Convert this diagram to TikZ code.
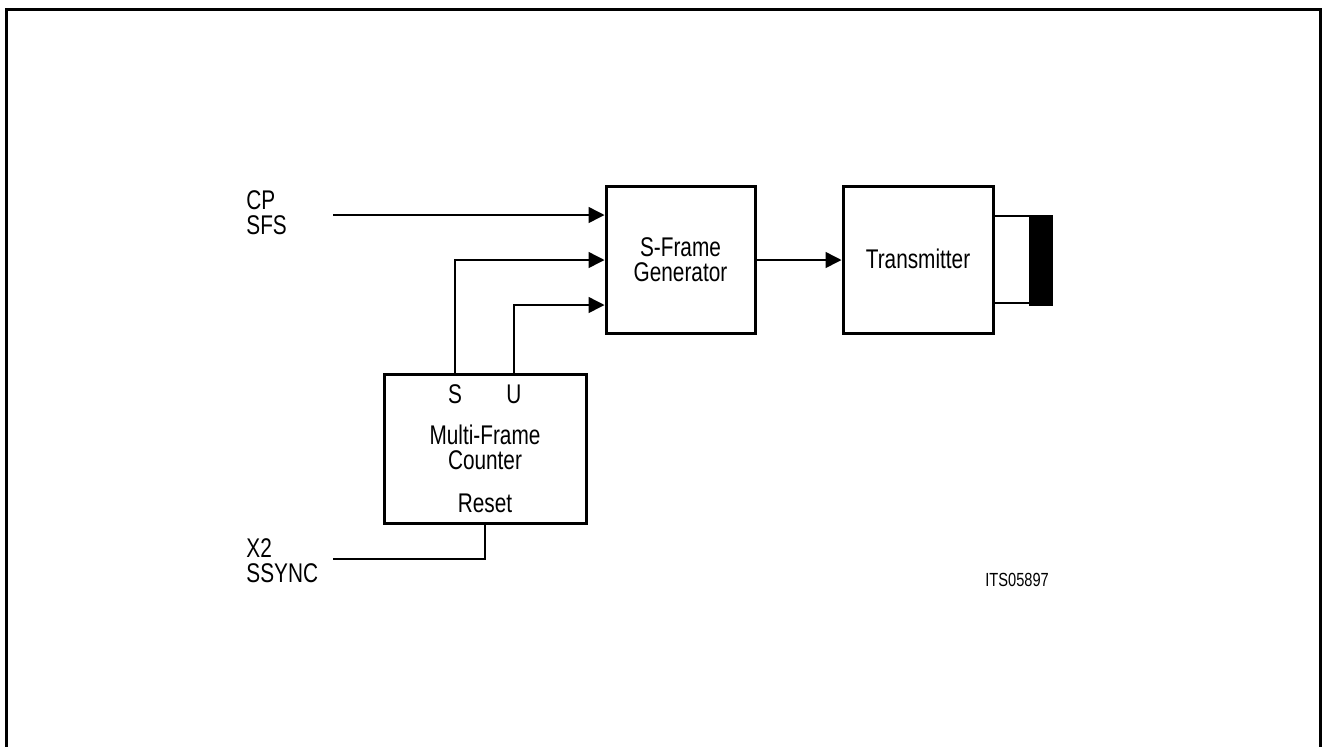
\documentclass[tikz,border=0pt]{standalone}
\usepackage{fontspec}
\setmainfont{Liberation Sans}[FakeStretch=0.77]
\usetikzlibrary{arrows.meta}
\begin{document}
\begin{tikzpicture}[x=0.5pt,y=-0.5pt,
  blk/.style={draw,line width=1.5pt,rectangle,inner sep=0pt},
  wire/.style={line width=0.75pt},
  arr/.style={wire,-{Triangle[length=8pt,width=8pt]}},
  lbl/.style={inner sep=0pt,font=\fontsize{13.5}{12}\selectfont},
  lblw/.style={lbl,anchor=base west},
  lblc/.style={lbl,anchor=base}]
\useasboundingbox (0,0) rectangle (1324,746);
\draw[line width=1.5pt] (6,780) -- (6,9) -- (1320,9) -- (1320,780);
% blocks
\node[blk,minimum width=74.5pt,minimum height=73.5pt] (sfg) at (680.5,259.5) {};
\node[blk,minimum width=75pt,minimum height=73.5pt] (tx) at (918,259.5) {};
\node[blk,minimum width=101pt,minimum height=74.5pt] (mfc) at (485,448.5) {};
\node[draw,fill=black,inner sep=0pt,minimum width=11.5pt,minimum height=45pt] (bar) at (1040.5,260) {};
% texts
\node[lblc] (t1) at (680.5,256) {S-Frame};
\node[lblc] (t2) at (680.5,281) {Generator};
\node[lblc] (t3) at (918,268) {Transmitter};
\node[lblc] (ts) at (455,403) {S};
\node[lblc] (tu) at (514,403) {U};
\node[lblc] (t4) at (485,444) {Multi-Frame};
\node[lblc] (t5) at (485,469) {Counter};
\node[lblc] (t6) at (485,512) {Reset};
\node[lblw] (cp) at (246,209) {CP};
\node[lblw] (sfs) at (246,234) {SFS};
\node[lblw] (x2) at (246,557) {X2};
\node[lblw] (ss) at (246,582) {SSYNC};
\node[inner sep=0pt,anchor=base west,font=\fontsize{9.5}{10}\selectfont] (its) at (985,586) {ITS05897};
% connector points
\coordinate (cpin) at (333,215);
\coordinate (sx) at (455,0);
\coordinate (ux) at (514,0);
\coordinate (rx) at (485,0);
\coordinate (syin) at (333,559);
\coordinate (ya) at (0,260);
\coordinate (yb) at (0,305);
\coordinate (yt1) at (0,216);
\coordinate (yt2) at (0,303);
% connectors
\draw[arr] (cpin) -- (cpin -| sfg.west);
\draw[arr] (mfc.north -| sx) -- (ya -| sx) -- (ya -| sfg.west);
\draw[arr] (mfc.north -| ux) -- (yb -| ux) -- (yb -| sfg.west);
\draw[arr] (sfg.east |- ya) -- (tx.west |- ya);
\draw[wire] (mfc.south -| rx) -- (syin -| rx) -- (syin);
\draw[wire] (tx.east |- yt1) -- (bar.west |- yt1);
\draw[wire] (tx.east |- yt2) -- (bar.west |- yt2);
\end{tikzpicture}
\end{document}
